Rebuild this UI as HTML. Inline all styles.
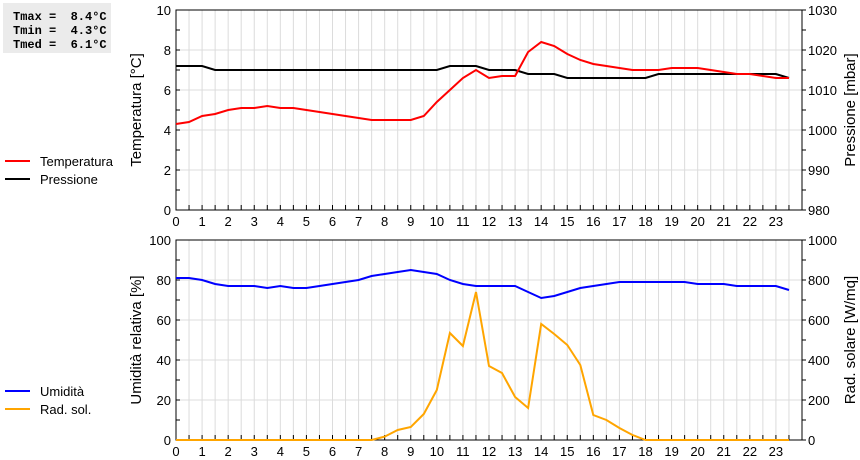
<!DOCTYPE html>
<html><head><meta charset="utf-8"><style>
body{margin:0;background:#fff;width:860px;height:460px;overflow:hidden}
svg{display:block;font-family:"Liberation Sans",sans-serif}
</style></head><body>
<svg id="c" width="860" height="460" xmlns="http://www.w3.org/2000/svg">
<rect x="3" y="3" width="108" height="50" fill="#ebebeb"/>
<text x="13" y="20" font-family="Liberation Mono,monospace" font-weight="bold" font-size="12" xml:space="preserve">Tmax =  8.4°C</text>
<text x="13" y="34" font-family="Liberation Mono,monospace" font-weight="bold" font-size="12" xml:space="preserve">Tmin =  4.3°C</text>
<text x="13" y="48" font-family="Liberation Mono,monospace" font-weight="bold" font-size="12" xml:space="preserve">Tmed =  6.1°C</text>
<g><line x1="5" y1="161" x2="30" y2="161" stroke="#f00" stroke-width="2"/><text x="40" y="166" font-size="13">Temperatura</text></g>
<g><line x1="5" y1="179" x2="30" y2="179" stroke="#000" stroke-width="2"/><text x="40" y="184" font-size="13">Pressione</text></g>
<g><line x1="5" y1="391" x2="30" y2="391" stroke="#00f" stroke-width="2"/><text x="40" y="396" font-size="13">Umidità</text></g>
<g><line x1="5" y1="409" x2="30" y2="409" stroke="#ffa500" stroke-width="2"/><text x="40" y="414" font-size="13">Rad. sol.</text></g>
<text transform="translate(141,110) rotate(-90)" text-anchor="middle" font-size="15">Temperatura [°C]</text>
<text transform="translate(855,110) rotate(-90)" text-anchor="middle" font-size="15">Pressione [mbar]</text>
<text transform="translate(141,340) rotate(-90)" text-anchor="middle" font-size="15">Umidità relativa [%]</text>
<text transform="translate(855,340) rotate(-90)" text-anchor="middle" font-size="15">Rad. solare [W/mq]</text>
</svg>
<script>
const hours=[0,0.5,1,1.5,2,2.5,3,3.5,4,4.5,5,5.5,6,6.5,7,7.5,8,8.5,9,9.5,10,10.5,11,11.5,12,12.5,13,13.5,14,14.5,15,15.5,16,16.5,17,17.5,18,18.5,19,19.5,20,20.5,21,21.5,22,22.5,23,23.5];
const temperature=[4.3,4.4,4.7,4.8,5.0,5.1,5.1,5.2,5.1,5.1,5.0,4.9,4.8,4.7,4.6,4.5,4.5,4.5,4.5,4.7,5.4,6.0,6.6,7.0,6.6,6.7,6.7,7.9,8.4,8.2,7.8,7.5,7.3,7.2,7.1,7.0,7.0,7.0,7.1,7.1,7.1,7.0,6.9,6.8,6.8,6.7,6.6,6.6];
const pressure=[1016,1016,1016,1015,1015,1015,1015,1015,1015,1015,1015,1015,1015,1015,1015,1015,1015,1015,1015,1015,1015,1016,1016,1016,1015,1015,1015,1014,1014,1014,1013,1013,1013,1013,1013,1013,1013,1014,1014,1014,1014,1014,1014,1014,1014,1014,1014,1013];
const humidity=[81,81,80,78,77,77,77,76,77,76,76,77,78,79,80,82,83,84,85,84,83,80,78,77,77,77,77,74,71,72,74,76,77,78,79,79,79,79,79,79,78,78,78,77,77,77,77,75];
const radiation=[0,0,0,0,0,0,0,0,0,0,0,0,0,0,0,0,17,50,65,130,250,535,470,740,370,335,215,160,580,530,475,375,125,100,60,25,0,0,0,0,0,0,0,0,0,0,0,0];
const tempTicks=[0,2,4,6,8,10];
const presTicks=[980,990,1000,1010,1020,1030];
const humTicks=[0,20,40,60,80,100];
const radTicks=[0,200,400,600,800,1000];
const hourTicks=[0,1,2,3,4,5,6,7,8,9,10,11,12,13,14,15,16,17,18,19,20,21,22,23];

const NS='http://www.w3.org/2000/svg',svg=document.getElementById('c');
const X0=176,X1=802;
const xs=h=>X0+h*(X1-X0)/24;
function el(t,a,p){const e=document.createElementNS(NS,t);for(const k in a)e.setAttribute(k,a[k]);(p||svg).appendChild(e);return e;}
function panel(name,top,bot,lmin,lmax,lt,rmin,rmax,rt){
  const g=el('g',{});
  
  
  const yl=v=>bot-(v-lmin)/(lmax-lmin)*(bot-top);
  const yr=v=>bot-(v-rmin)/(rmax-rmin)*(bot-top);
  for(let h=0.5;h<24;h+=0.5)el('line',{x1:xs(h),y1:top,x2:xs(h),y2:bot,stroke:'#dcdcdc','stroke-width':1},g);
  lt.forEach(v=>{el('line',{x1:X0,y1:yl(v),x2:X1,y2:yl(v),stroke:'#dcdcdc'},g);});
  el('rect',{x:X0,y:top,width:X1-X0,height:bot-top,fill:'none',stroke:'#000'},g);
  const step=(lt[1]-lt[0])/2;
  for(let v=lmin;v<=lmax;v+=step){el('line',{x1:X0,y1:yl(v),x2:X0+4,y2:yl(v),stroke:'#000'},g);el('line',{x1:X1,y1:yl(v),x2:X1+4,y2:yl(v),stroke:'#000'},g);}
  for(let h=0.5;h<24;h+=0.5)el('line',{x1:xs(h),y1:bot,x2:xs(h),y2:bot-5,stroke:'#000'},g);
  lt.forEach(v=>{const t=el('text',{x:X0-5,y:yl(v)+5,'text-anchor':'end','font-size':13},g);t.textContent=v;});
  rt.forEach(v=>{const t=el('text',{x:X1+6,y:yr(v)+5,'font-size':13},g);t.textContent=v;});
  hourTicks.forEach(h=>{const t=el('text',{x:xs(h),y:bot+16,'text-anchor':'middle','font-size':13},g);t.textContent=h;});
  return {g,yl,yr};
}
function line(p,arr,fy,color,name){
  const d=arr.map((v,i)=>(i?'L':'M')+xs(hours[i]).toFixed(1)+','+fy(v).toFixed(1)).join('');
  const e=el('path',{d:d,fill:'none',stroke:color,'stroke-width':2},p.g);
  
  
}
const p1=panel('top',10,210,0,10,tempTicks,980,1030,presTicks);
line(p1,pressure,p1.yr,'#000','pressure-line');
line(p1,temperature,p1.yl,'#f00','temperature-line');
const p2=panel('bottom',240,440,0,100,humTicks,0,1000,radTicks);
line(p2,radiation,p2.yr,'#ffa500','radiation-line');
line(p2,humidity,p2.yl,'#00f','humidity-line');
</script>
</body></html>
